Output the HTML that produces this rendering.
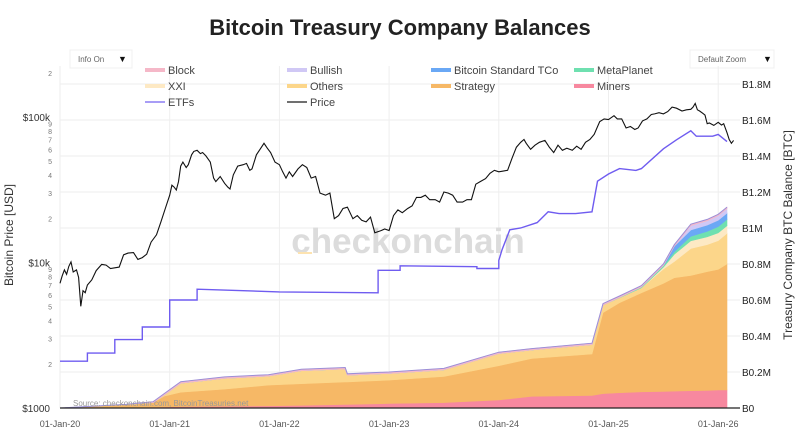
<!DOCTYPE html>
<html><head><meta charset="utf-8">
<style>
body{margin:0;background:#fff;}
#wrap{position:relative;width:800px;height:448px;overflow:hidden;font-family:"Liberation Sans",sans-serif;}
svg text{font-family:"Liberation Sans",sans-serif;}
</style></head>
<body>
<div id="wrap">
<svg id="chart" width="800" height="448" xmlns="http://www.w3.org/2000/svg">
<text x="400" y="35" text-anchor="middle" font-size="22" font-weight="bold" fill="#222">Bitcoin Treasury Company Balances</text>
<g><rect x="70" y="50" width="62" height="18" fill="#fff" stroke="#f0f0f0"/><text x="78" y="62" font-size="8" fill="#666">Info On</text><text x="118" y="62" font-size="9" fill="#111">▼</text></g>
<g><rect x="690" y="50" width="84" height="18" fill="#fff" stroke="#f0f0f0"/><text x="698" y="62" font-size="8" fill="#666">Default Zoom</text><text x="763" y="62" font-size="9" fill="#111">▼</text></g>
<g id="grid"></g>
<text x="408" y="253" text-anchor="middle" font-size="35" font-weight="bold" fill="#dcdcdc">checkonchain</text>
<rect x="298" y="252" width="14" height="2" fill="#fde3b0"/>
<g id="areas"></g>
<g id="lines"></g>
<g id="axes"></g>
<g id="legend"></g>
<text x="73" y="406" font-size="8" fill="#999">Source: checkonchain.com, BitcoinTreasuries.net</text>
<text transform="translate(13,235) rotate(-90)" text-anchor="middle" font-size="12" fill="#333">Bitcoin Price [USD]</text>
<text transform="translate(792,235) rotate(-90)" text-anchor="middle" font-size="12" fill="#333">Treasury Company BTC Balance [BTC]</text>
</svg>
</div>
<script>
const xTickLabels=["01-Jan-20","01-Jan-21","01-Jan-22","01-Jan-23","01-Jan-24","01-Jan-25","01-Jan-26"];
const xTickYears=[2020,2021,2022,2023,2024,2025,2026];
const rightTicks=[0,0.2,0.4,0.6,0.8,1,1.2,1.4,1.6,1.8];
const rightTickLabels=["B0","B0.2M","B0.4M","B0.6M","B0.8M","B1M","B1.2M","B1.4M","B1.6M","B1.8M"];
const priceT=[2020.0,2020.02,2020.04,2020.06,2020.08,2020.1,2020.12,2020.15,2020.17,2020.19,2020.21,2020.23,2020.25,2020.29,2020.33,2020.38,2020.42,2020.46,2020.5,2020.54,2020.58,2020.62,2020.67,2020.71,2020.75,2020.79,2020.83,2020.88,2020.92,2020.96,2021.0,2021.02,2021.04,2021.06,2021.08,2021.1,2021.12,2021.15,2021.17,2021.2,2021.22,2021.25,2021.28,2021.3,2021.33,2021.37,2021.4,2021.42,2021.46,2021.5,2021.53,2021.55,2021.58,2021.62,2021.67,2021.7,2021.73,2021.75,2021.79,2021.83,2021.86,2021.89,2021.92,2021.96,2022.0,2022.03,2022.06,2022.09,2022.12,2022.17,2022.21,2022.25,2022.29,2022.33,2022.37,2022.42,2022.46,2022.5,2022.54,2022.58,2022.62,2022.67,2022.71,2022.75,2022.79,2022.83,2022.87,2022.92,2022.96,2023.0,2023.04,2023.08,2023.12,2023.17,2023.21,2023.25,2023.29,2023.33,2023.37,2023.42,2023.46,2023.5,2023.54,2023.58,2023.62,2023.67,2023.71,2023.75,2023.79,2023.83,2023.88,2023.92,2023.96,2024.0,2024.04,2024.08,2024.12,2024.16,2024.2,2024.23,2024.25,2024.29,2024.33,2024.37,2024.42,2024.46,2024.5,2024.54,2024.58,2024.62,2024.67,2024.71,2024.75,2024.79,2024.83,2024.87,2024.92,2024.96,2025.0,2025.05,2025.08,2025.12,2025.16,2025.2,2025.24,2025.27,2025.31,2025.35,2025.39,2025.42,2025.46,2025.5,2025.54,2025.58,2025.62,2025.67,2025.71,2025.75,2025.77,2025.79,2025.81,2025.83,2025.86,2025.88,2025.9,2025.92,2025.96,2026.0,2026.03,2026.05,2026.08,2026.1,2026.12,2026.14,2026.16];
const priceV=[7200,8100,8900,8300,9400,10100,8600,8900,7900,5000,6400,6200,7000,7600,8800,9700,9600,9100,9200,9300,11300,11600,11700,10500,10800,11400,13800,15500,19000,23500,29000,34000,33000,31500,36000,46000,49000,45000,47000,55000,58000,59000,56000,57000,54000,49000,38000,36000,39000,35000,33000,32000,40000,46000,47000,48000,43000,44000,55000,61000,66000,61000,57000,49000,47000,42000,38000,42000,39000,44000,47000,45000,38000,39000,30000,29000,30000,20000,21000,23500,24000,20000,21000,19500,19000,20500,16000,16500,17000,16600,21000,23000,22000,23500,24500,28000,28000,29000,27000,27000,26000,30500,30000,29000,26000,26000,27000,27000,34500,36000,37700,41000,43000,42000,42500,43000,52000,62000,67000,70000,66000,60000,64000,67000,69000,62000,57000,64000,59000,61000,59000,63000,60000,67000,70000,76000,93000,97000,96000,102000,97000,97000,84000,86000,82000,84000,94000,97000,104000,105000,107000,105000,109000,117000,115000,110000,112000,113000,117000,124000,112000,110000,106000,103000,90000,91000,87500,92000,88000,90000,78000,70000,66000,69000];
const etfT=[2020.0,2020.25,2020.25,2020.5,2020.5,2020.75,2020.75,2021.0,2021.0,2021.25,2021.25,2022.0,2022.9,2022.9,2023.1,2023.1,2023.8,2023.8,2024.0,2024.0,2024.03,2024.1,2024.2,2024.35,2024.45,2024.55,2024.7,2024.85,2024.9,2025.0,2025.1,2025.25,2025.3,2025.5,2025.62,2025.75,2025.8,2025.95,2026.0,2026.08];
const etfV=[0.26,0.26,0.305,0.305,0.38,0.38,0.45,0.45,0.6,0.6,0.66,0.645,0.64,0.765,0.765,0.79,0.785,0.775,0.775,0.82,0.88,0.99,1.0,1.03,1.09,1.08,1.08,1.09,1.26,1.3,1.33,1.32,1.33,1.44,1.49,1.54,1.51,1.51,1.52,1.48];
const stackT=[2020.0,2020.6,2020.85,2020.95,2021.1,2021.5,2021.9,2022.2,2022.6,2022.62,2023.0,2023.5,2024.0,2024.3,2024.85,2024.95,2025.1,2025.3,2025.5,2025.6,2025.75,2025.9,2026.0,2026.08];
const miners=[0,0.003,0.005,0.006,0.008,0.01,0.012,0.015,0.02,0.02,0.025,0.03,0.045,0.065,0.07,0.08,0.085,0.09,0.092,0.094,0.096,0.098,0.1,0.1];
const strategy=[0,0.015,0.025,0.06,0.08,0.095,0.115,0.12,0.125,0.125,0.13,0.145,0.19,0.21,0.23,0.45,0.5,0.55,0.6,0.63,0.64,0.66,0.67,0.7];
const others=[0,0.002,0,0.006,0.05,0.06,0.05,0.072,0.072,0.037,0.037,0.037,0.067,0.047,0.052,0.042,0.027,0.027,0.08,0.09,0.15,0.15,0.16,0.17];
const xxi=[0,0,0,0,0,0,0,0,0,0,0,0,0,0,0,0,0,0,0.01,0.04,0.043,0.043,0.043,0.043];
const metaplanet=[0,0,0,0,0,0,0,0,0,0,0,0,0,0,0,0,0.002,0.005,0.01,0.015,0.025,0.03,0.035,0.035];
const bstco=[0,0,0,0,0,0,0,0,0,0,0,0,0,0,0,0,0,0,0,0.03,0.035,0.035,0.035,0.035];
const bullish=[0,0,0,0,0,0,0,0,0,0,0,0,0,0,0,0,0,0,0,0,0.024,0.024,0.025,0.025];
const block=[0,0,0.005,0.008,0.008,0.008,0.008,0.008,0.008,0.008,0.008,0.008,0.008,0.008,0.008,0.008,0.008,0.008,0.008,0.008,0.008,0.008,0.008,0.008];

const NS="http://www.w3.org/2000/svg";
const X0=60,PX_YEAR=109.7,PY0=408,PDEC=145.5,BPM=180;
function xs(t){return X0+(t-2020)*PX_YEAR;}
function yp(v){return PY0-(Math.log10(v)-3)*PDEC;}
function yb(v){return PY0-v*BPM;}
function mk(tag,attrs,parent){const e=document.createElementNS(NS,tag);for(const k in attrs)e.setAttribute(k,attrs[k]);parent.appendChild(e);return e;}
const grid=document.getElementById('grid'),axes=document.getElementById('axes'),areas=document.getElementById('areas'),lines=document.getElementById('lines'),legend=document.getElementById('legend');

xTickYears.forEach((y,i)=>{
  const l=mk('line',{x1:xs(y),x2:xs(y),y1:66,y2:408,stroke:'#eeeeee','stroke-width':1},grid);
  
  
  const t=mk('text',{x:xs(y),y:427,'text-anchor':'middle','font-size':9,fill:'#555'},axes);
  t.textContent=xTickLabels[i];
  
  
});
rightTicks.forEach((v,i)=>{
  if(v>0){const l=mk('line',{x1:60,x2:740,y1:yb(v),y2:yb(v),stroke:'#eeeeee','stroke-width':1},grid);
  
  }
  const t=mk('text',{x:742,y:yb(v)+4,'font-size':10,fill:'#222'},axes);
  t.textContent=rightTickLabels[i];
  
  
});
[3,4,5].forEach(d=>{
  const lab=d==3?'$1000':d==4?'$10k':'$100k';
  const t=mk('text',{x:50,y:yp(Math.pow(10,d))+4,'text-anchor':'end','font-size':10,fill:'#333'},axes);
  t.textContent=lab;
  
  
  const maxm=d==5?2:9;
  for(let m=2;m<=maxm;m++){
    const tt=mk('text',{x:52,y:yp(m*Math.pow(10,d))+3,'text-anchor':'end','font-size':7,fill:'#777'},axes);
    tt.textContent=String(m);
    
    
  }
});
const xl=mk('line',{x1:60,x2:740,y1:408,y2:408,stroke:'#222','stroke-width':1.2},axes);



const layers=[
 {name:'miners',vals:miners,color:'#f7889f'},
 {name:'strategy',vals:strategy,color:'#f6b866'},
 {name:'others',vals:others,color:'#fcd68a'},
 {name:'xxi',vals:xxi,color:'#fde9c4'},
 {name:'metaplanet',vals:metaplanet,color:'#6fe0b0'},
 {name:'bitcoin-standard',vals:bstco,color:'#6aa8f5'},
 {name:'bullish',vals:bullish,color:'#d0c8f5'},
 {name:'block',vals:block,color:'#f5b8c8'}];
let base=stackT.map(()=>0);
layers.forEach(L=>{
  const top=base.map((b,i)=>b+L.vals[i]);
  let d='M'+stackT.map((t,i)=>xs(t).toFixed(1)+','+yb(top[i]).toFixed(1)).join(' L');
  for(let i=stackT.length-1;i>=0;i--)d+=' L'+xs(stackT[i]).toFixed(1)+','+yb(base[i]).toFixed(1);
  const p=mk('path',{d:d+'Z',fill:L.color,stroke:L.color,'stroke-width':0.6},areas);
  
  
  base=top;
});
const tl=mk('path',{d:'M'+stackT.map((t,i)=>xs(t).toFixed(1)+','+yb(base[i]).toFixed(1)).join(' L'),fill:'none',stroke:'#9b8fd8','stroke-width':1},areas);



const ep=mk('path',{d:'M'+etfT.map((t,i)=>xs(t).toFixed(1)+','+yb(etfV[i]).toFixed(1)).join(' L'),fill:'none',stroke:'#6f5cf0','stroke-width':1.4},lines);


const pp=mk('path',{d:'M'+priceT.map((t,i)=>xs(t).toFixed(1)+','+yp(priceV[i]).toFixed(1)).join(' L'),fill:'none',stroke:'#111','stroke-width':1.1},lines);



const legItems=[['Block','#f5b8c8',145,70],['Bullish','#d0c8f5',287,70],['Bitcoin Standard TCo','#6aa8f5',431,70],['MetaPlanet','#6fe0b0',574,70],
['XXI','#fde9c4',145,86],['Others','#fcd68a',287,86],['Strategy','#f6b866',431,86],['Miners','#f7889f',574,86],
['ETFs','#6f5cf0',145,102,1],['Price','#111',287,102,1]];
legItems.forEach(it=>{
  const g=mk('g',{},legend);
  
  
  mk('rect',{x:it[2],y:it[3]-(it[4]?0.6:2),width:20,height:it[4]?1.2:4,fill:it[1]},g);
  const t=mk('text',{x:it[2]+23,y:it[3]+4,'font-size':11,fill:'#444'},g);
  t.textContent=it[0];
});
</script>
</body></html>
